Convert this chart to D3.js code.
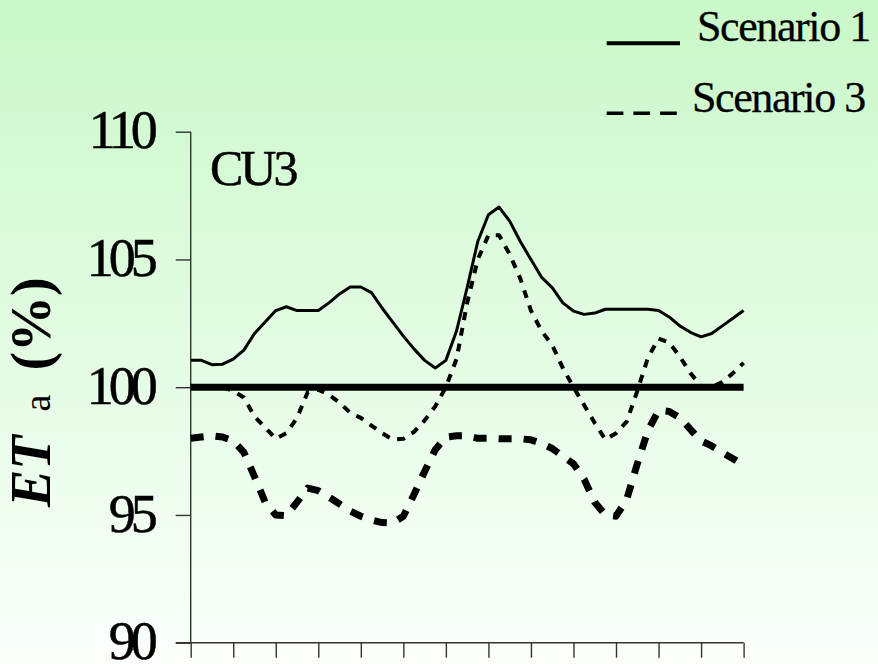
<!DOCTYPE html>
<html>
<head>
<meta charset="utf-8">
<script src="https://cdn.jsdelivr.net/npm/d3@7"></script>
<style>
  html, body { margin: 0; padding: 0; }
  body { width: 878px; height: 664px; overflow: hidden; }
  svg { display: block; }
</style>
</head>
<body>
<svg id="chart" width="878" height="664"></svg>
<script>
// Weekly steps along the season (0 .. 52), ticks every 4 steps
const steps = d3.range(0, 53);
const xTickSteps = [0, 4, 8, 12, 16, 20, 24, 28, 32, 36, 40, 44, 48, 52];
const yTicks = [90, 95, 100, 105, 110];
const panelLabel = "CU3";
const legendLabels = ["Scenario 1", "Scenario 3"];

// Scenario 1, upper curve (thin solid)
const scen1Upper = [
  101.05, 101.05, 100.88, 100.9, 101.1, 101.45, 102.1, 102.55, 103.0, 103.15,
  103.0, 103.0, 103.0, 103.3, 103.65, 103.92, 103.92, 103.7, 103.1, 102.55,
  102.0, 101.5, 101.05, 100.75, 101.05, 102.2, 103.9, 105.7, 106.75, 107.05,
  106.5, 105.7, 105.0, 104.3, 103.9, 103.3, 102.98, 102.85, 102.9, 103.05,
  103.05, 103.05, 103.05, 103.05, 103.0, 102.75, 102.4, 102.15, 101.97, 102.1,
  102.4, 102.7, 103.0
];

// Scenario 1, reference curve (thick solid)
const scen1Base = [
  100, 100, 100, 100, 100, 100, 100, 100, 100, 100,
  100, 100, 100, 100, 100, 100, 100, 100, 100, 100,
  100, 100, 100, 100, 100, 100, 100, 100, 100, 100,
  100, 100, 100, 100, 100, 100, 100, 100, 100, 100,
  100, 100, 100, 100, 100, 100, 100, 100, 100, 100,
  100, 100, 100
];

// Scenario 3, upper curve (medium dashes)
const scen3Upper = [
  100.0, 100.0, 100.0, 100.0, 99.85, 99.6, 98.85, 98.43, 97.98, 98.2,
  98.8, 99.8, 99.9, 99.7, 99.4, 99.0, 98.8, 98.5, 98.2, 97.95,
  97.98, 98.25, 98.7, 99.25, 100.0, 101.1, 103.3, 105.0, 105.95, 105.95,
  105.2, 104.25, 103.0, 102.2, 101.65, 100.75, 100.0, 99.3, 98.6, 97.95,
  98.2, 98.65, 99.85, 101.15, 101.9, 101.75, 101.2, 100.55, 100.05, 100.0,
  100.2, 100.55, 100.95
];

// Scenario 3, lower curve (heavy dashes)
const scen3Lower = [
  98.0, 98.05, 98.1, 98.05, 97.9, 97.45, 96.5, 95.5, 95.0, 94.97,
  95.5, 96.05, 95.95, 95.7, 95.43, 95.15, 94.95, 94.8, 94.7, 94.68,
  94.95, 95.8, 96.7, 97.55, 98.05, 98.1, 98.1, 98.0, 98.0, 97.98,
  97.98, 97.98, 97.94, 97.8, 97.6, 97.3, 97.0, 96.4, 95.5, 95.0,
  94.95, 95.6, 97.0, 98.3, 99.1, 99.05, 98.8, 98.35, 97.9, 97.7,
  97.45, 97.2, 96.95
];

const W = 878, H = 664;
const svg = d3.select("#chart");

// background wash
const defs = svg.append("defs");
const grad = defs.append("linearGradient")
  .attr("id", "bg").attr("x1", 0).attr("y1", 0).attr("x2", 0).attr("y2", 1);
grad.append("stop").attr("offset", "0%").attr("stop-color", "#c9f8c9");
grad.append("stop").attr("offset", "100%").attr("stop-color", "#fbfffb");
svg.append("rect").attr("width", W).attr("height", H).attr("fill", "url(#bg)");

const x = d3.scaleLinear().domain([0, 52]).range([190.7, 743.6]);
const y = d3.scaleLinear().domain([90, 110]).range([642.7, 131.7]);

const serif = "'Liberation Serif', 'Times New Roman', serif";
const axisColor = "#333";
const tickLen = 15;

// y axis
const yAxis = svg.append("g")
  .attr("transform", `translate(${x(0)},0)`)
  .call(d3.axisLeft(y).tickValues(yTicks).tickSize(tickLen).tickPadding(23).tickFormat(d3.format("d")));
yAxis.select(".domain").remove();
yAxis.selectAll(".tick line").attr("stroke", axisColor).attr("stroke-width", 1.4);
yAxis.selectAll(".tick text")
  .attr("font-family", serif).attr("font-size", 54)
  .attr("letter-spacing", "-5px")
  .attr("fill", "#000").attr("stroke", "#000").attr("stroke-width", 0.5)
  .attr("dy", "0.3em");
svg.append("line")
  .attr("x1", x(0)).attr("x2", x(0))
  .attr("y1", y(110)).attr("y2", y(90))
  .attr("stroke", axisColor).attr("stroke-width", 1.4);

// x axis (no labels), line reaches back across the y axis
const xAxis = svg.append("g")
  .attr("transform", `translate(0,${y(90)})`)
  .call(d3.axisBottom(x).tickValues(xTickSteps).tickSize(tickLen).tickFormat(""));
xAxis.select(".domain").remove();
xAxis.selectAll(".tick line").attr("stroke", axisColor).attr("stroke-width", 1.4);
svg.append("line")
  .attr("x1", x(0) - tickLen).attr("x2", x(52))
  .attr("y1", y(90)).attr("y2", y(90))
  .attr("stroke", axisColor).attr("stroke-width", 1.4);

// series
const line = d3.line().x((d, i) => x(steps[i])).y(d => y(d));
const series = [
  { values: scen1Base,  width: 7,   dash: null },
  { values: scen1Upper, width: 3,   dash: null },
  { values: scen3Upper, width: 4,   dash: "8,8" },
  { values: scen3Lower, width: 7,   dash: "13,12" }
];
svg.append("g").selectAll("path").data(series).join("path")
  .attr("d", d => line(d.values))
  .attr("fill", "none")
  .attr("stroke", "#000")
  .attr("stroke-width", d => d.width)
  .attr("stroke-linejoin", "round")
  .attr("stroke-dasharray", d => d.dash);

// panel label
svg.append("text")
  .attr("x", 210).attr("y", 185)
  .attr("font-family", serif).attr("font-size", 50)
  .attr("letter-spacing", "-3px")
  .attr("stroke", "#000").attr("stroke-width", 0.5)
  .text(panelLabel);

// legend
const legendItems = [
  { label: legendLabels[0], width: 4,   dash: null,      ly: 43.3,  tx: 697, ty: 41 },
  { label: legendLabels[1], width: 3.5, dash: "16.7,10", ly: 113.3, tx: 692, ty: 112 }
];
const lg = svg.append("g");
lg.selectAll("line").data(legendItems).join("line")
  .attr("x1", 606.7).attr("x2", 680)
  .attr("y1", d => d.ly).attr("y2", d => d.ly)
  .attr("stroke", "#000")
  .attr("stroke-width", d => d.width)
  .attr("stroke-dasharray", d => d.dash);
lg.selectAll("text").data(legendItems).join("text")
  .attr("x", d => d.tx).attr("y", d => d.ty)
  .attr("font-family", serif).attr("font-size", 44)
  .attr("letter-spacing", "-1.4px")
  .attr("stroke", "#000").attr("stroke-width", 0.3)
  .text(d => d.label);

// y axis title: ET a (%)
const yTitle = svg.append("text")
  .attr("transform", "translate(50,507) rotate(-90)")
  .attr("font-family", serif);
yTitle.append("tspan").attr("font-size", 56).attr("font-weight", "bold").attr("font-style", "italic").text("ET");
yTitle.append("tspan").attr("font-size", 38).attr("dx", 24).text("a");
yTitle.append("tspan").attr("font-size", 56).attr("font-weight", "bold").attr("dx", 24).text("(%)");
</script>
</body>
</html>
